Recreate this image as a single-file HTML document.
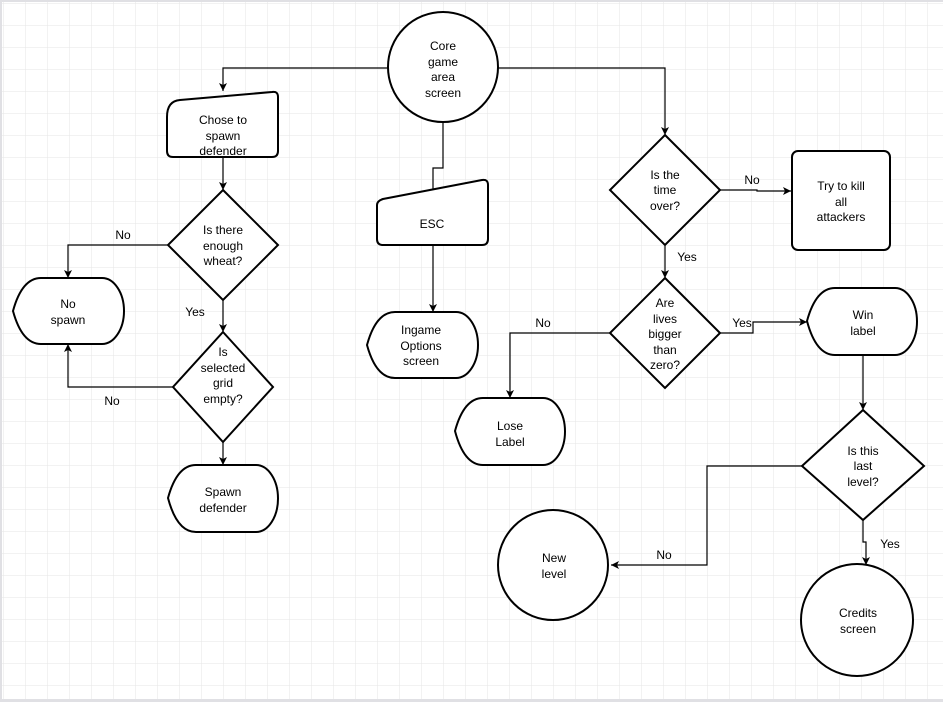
<!DOCTYPE html>
<html><head><meta charset="utf-8"><style>
html,body{margin:0;padding:0;background:#fff;}
svg{display:block;}
text{font-family:"Liberation Sans",Arial,sans-serif;font-size:12px;fill:#000;}
</style></head><body>
<svg width="943" height="702" viewBox="0 0 943 702" xmlns="http://www.w3.org/2000/svg">
<defs>
<pattern id="g" x="3" y="3" width="22" height="22" patternUnits="userSpaceOnUse">
<path d="M0 0H22M0 0V22" stroke="#e6e6e6" stroke-width="1" fill="none"/>
</pattern>
<marker id="a" markerWidth="10" markerHeight="10" refX="8" refY="5" orient="auto" markerUnits="userSpaceOnUse">
<path d="M0,1 L8,5 L0,9 L2,5 Z" fill="#000"/>
</marker>
</defs>
<rect width="943" height="702" fill="url(#g)"/>
<rect x="0" y="0" width="943" height="2" fill="#e0e0e4"/>
<rect x="0" y="699" width="943" height="3" fill="#e0e0e4"/>
<rect x="0" y="0" width="2" height="702" fill="#e0e0e4"/>

<g fill="none" stroke="#000" stroke-width="1.2">
<path d="M388,68 H223 V91" marker-end="url(#a)"/>
<path d="M223,157 V190" marker-end="url(#a)"/>
<path d="M168,245 H68 V278" marker-end="url(#a)"/>
<path d="M223,300 V332" marker-end="url(#a)"/>
<path d="M173,387 H68 V344" marker-end="url(#a)"/>
<path d="M223,442 V465" marker-end="url(#a)"/>
<path d="M443,123 V168 H433 V192"/>
<path d="M433,245 V312" marker-end="url(#a)"/>
<path d="M498,68 H665 V135" marker-end="url(#a)"/>
<path d="M720,190 H757 V191 H791" marker-end="url(#a)"/>
<path d="M665,245 V278" marker-end="url(#a)"/>
<path d="M610,333 H510 V398" marker-end="url(#a)"/>
<path d="M720,333 H753 V322 H807" marker-end="url(#a)"/>
<path d="M863,355 V410" marker-end="url(#a)"/>
<path d="M802,466 H707 V565 H611" marker-end="url(#a)"/>
<path d="M863,520 V542 H866 V565" marker-end="url(#a)"/>
</g>

<g fill="#fff" stroke="#000" stroke-width="2">
<circle cx="443" cy="67" r="55"/>
<path d="M167,117 Q167,101 180,100 L272,92 Q278,91 278,97 L278,151 Q278,157 272,157 L173,157 Q167,157 167,151 Z"/>
<path d="M377,205 Q377,201 383,199 L482,180 Q488,179 488,185 L488,239 Q488,245 482,245 L383,245 Q377,245 377,239 Z"/>
<path d="M223,190 L278,245 L223,300 L168,245 Z"/>
<path d="M223,332 L273,387 L223,442 L173,387 Z"/>
<path d="M665,135 L720,190 L665,245 L610,190 Z"/>
<path d="M665,278 L720,333 L665,388 L610,333 Z"/>
<path d="M863,410 L924,466 L863,520 L802,466 Z"/>
<rect x="792" y="151" width="98" height="99" rx="6"/>
<path d="M13,311 Q22,278 41,278 L102,278 A22,33 0 0 1 102,344 L41,344 Q22,344 13,311 Z"/>
<path d="M168,498 Q177,465 196,465 L256,465 A22,33.5 0 0 1 256,532 L196,532 Q177,532 168,498 Z"/>
<path d="M367,345 Q376,312 395,312 L456,312 A22,33 0 0 1 456,378 L395,378 Q376,378 367,345 Z"/>
<path d="M455,431 Q464,398 483,398 L543,398 A22,33.5 0 0 1 543,465 L483,465 Q464,465 455,431 Z"/>
<path d="M807,321 Q816,288 835,288 L895,288 A22,33.5 0 0 1 895,355 L835,355 Q816,355 807,321 Z"/>
<circle cx="553" cy="565" r="55"/>
<circle cx="857" cy="620" r="56"/>
</g>

<g text-anchor="middle">
<text x="443" y="50">Core</text><text x="443" y="66">game</text><text x="443" y="81">area</text><text x="443" y="97">screen</text>
<text x="223" y="124">Chose to</text><text x="223" y="140">spawn</text><text x="223" y="155">defender</text>
<text x="432" y="228">ESC</text>
<text x="223" y="234">Is there</text><text x="223" y="250">enough</text><text x="223" y="265">wheat?</text>
<text x="223" y="356">Is</text><text x="223" y="372">selected</text><text x="223" y="387">grid</text><text x="223" y="403">empty?</text>
<text x="68" y="308">No</text><text x="68" y="324">spawn</text>
<text x="223" y="496">Spawn</text><text x="223" y="512">defender</text>
<text x="421" y="334">Ingame</text><text x="421" y="350">Options</text><text x="421" y="365">screen</text>
<text x="665" y="179">Is the</text><text x="665" y="194">time</text><text x="665" y="210">over?</text>
<text x="841" y="190">Try to kill</text><text x="841" y="206">all</text><text x="841" y="221">attackers</text>
<text x="665" y="307">Are</text><text x="665" y="323">lives</text><text x="665" y="338">bigger</text><text x="665" y="354">than</text><text x="665" y="369">zero?</text>
<text x="510" y="430">Lose</text><text x="510" y="446">Label</text>
<text x="863" y="319">Win</text><text x="863" y="335">label</text>
<text x="863" y="455">Is this</text><text x="863" y="470">last</text><text x="863" y="486">level?</text>
<text x="554" y="562">New</text><text x="554" y="578">level</text>
<text x="858" y="617">Credits</text><text x="858" y="633">screen</text>
<text x="123" y="239">No</text>
<text x="195" y="316">Yes</text>
<text x="112" y="405">No</text>
<text x="752" y="184">No</text>
<text x="687" y="261">Yes</text>
<text x="543" y="327">No</text>
<text x="742" y="327">Yes</text>
<text x="664" y="559">No</text>
<text x="890" y="548">Yes</text>
</g>
</svg>
</body></html>
